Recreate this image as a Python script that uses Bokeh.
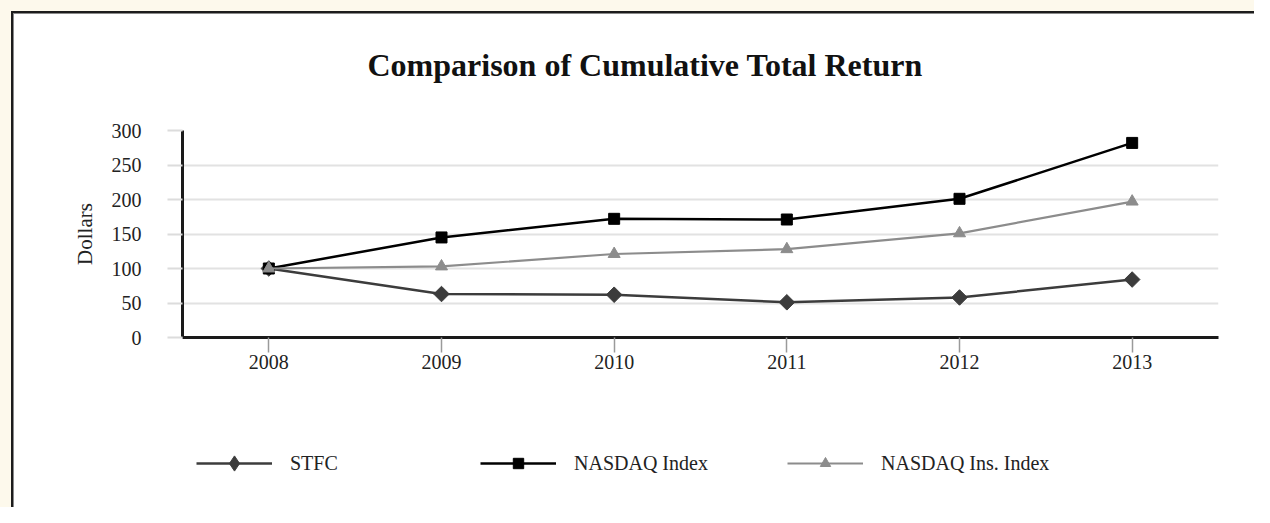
import numpy as np
from bokeh.plotting import figure
from bokeh.layouts import column
from bokeh.models import Range1d, FixedTicker, Legend, LegendItem, Title
from bokeh.embed import file_html
from bokeh.resources import INLINE

# ---- data ----
years = ["2008", "2009", "2010", "2011", "2012", "2013"]
stfc = [100, 63, 62, 51, 58, 84]
nasdaq = [100, 145, 172, 171, 201, 282]
nasdaq_ins = [100, 103, 121, 128, 151, 197]
y_ticks = [0, 50, 100, 150, 200, 250, 300]
series_names = ["STFC", "NASDAQ Index", "NASDAQ Ins. Index"]

FONT = "Liberation Serif"
TXT = "#222222"
STYLES = [
    dict(line_color="#3c3c3c", line_width=2.5, marker="square", angle=np.pi / 4,
         size=11, leg_marker="diamond", leg_h=38),
    dict(line_color="#000000", line_width=2.5, marker="square", angle=0.0,
         size=11, leg_marker="square", leg_h=26),
    dict(line_color="#8c8c8c", line_width=2.2, marker="triangle", angle=0.0,
         size=12, leg_marker="triangle", leg_h=26),
]

W = 1254
H_MAIN = 400
H_LEG = 107

p = figure(
    x_range=years, y_range=Range1d(0, 300),
    width=W, height=H_MAIN,
    output_backend="svg", toolbar_location=None,
    min_border_left=182, min_border_right=36,
    min_border_top=130, min_border_bottom=H_MAIN - 337,
    border_fill_color=None, background_fill_color=None,
    outline_line_color=None,
)

p.title = Title(text="Comparison of Cumulative Total Return", align="left",
                offset=185, vertical_align="top", standoff=91,
                text_font=FONT, text_font_size="32px",
                text_font_style="bold", text_color="#111111")

# ---- axes ----
p.xaxis.axis_line_width = 3
p.xaxis.axis_line_color = "#1a1a1a"
p.xaxis.major_tick_out = 15
p.xaxis.major_tick_in = 0
p.xaxis.major_tick_line_color = "#9a9a9a"
p.xaxis.major_tick_line_width = 1.5
p.xaxis.major_label_standoff = 2
p.xaxis.major_label_text_font = FONT
p.xaxis.major_label_text_font_size = "20px"
p.xaxis.major_label_text_color = TXT

p.yaxis.ticker = FixedTicker(ticks=y_ticks)
p.yaxis.axis_line_width = 3
p.yaxis.axis_line_color = "#1a1a1a"
p.yaxis.major_tick_out = 15
p.yaxis.major_tick_in = 0
p.yaxis.major_tick_line_color = "#dcdcdc"
p.yaxis.major_tick_line_width = 2
p.yaxis.minor_tick_line_color = None
p.yaxis.major_label_standoff = 26
p.yaxis.major_label_text_font = FONT
p.yaxis.major_label_text_font_size = "20px"
p.yaxis.major_label_text_color = TXT
p.yaxis.axis_label = "Dollars"
p.yaxis.axis_label_text_font = FONT
p.yaxis.axis_label_text_font_size = "21px"
p.yaxis.axis_label_text_font_style = "normal"
p.yaxis.axis_label_text_color = TXT
p.yaxis.axis_label_standoff = 12

p.xgrid.grid_line_color = None
p.ygrid.grid_line_color = "#e2e2e2"
p.ygrid.grid_line_width = 2

# ---- series ----
for vals, st in zip([stfc, nasdaq, nasdaq_ins], STYLES):
    p.line(years, vals, line_color=st["line_color"], line_width=st["line_width"])
    p.scatter(years, vals, marker=st["marker"], angle=st["angle"], size=st["size"],
              fill_color=st["line_color"], line_color=st["line_color"])

# ---- legend strip below the chart (frames of the column are aligned) ----
q = figure(
    x_range=Range1d(0, 1), y_range=Range1d(0, 1),
    width=W, height=H_LEG,
    output_backend="svg", toolbar_location=None,
    min_border=0, border_fill_color=None, background_fill_color=None,
    outline_line_color=None,
)
q.axis.visible = False
q.grid.visible = False

leg_x = [14, 298, 605]   # offsets from the aligned frame's left edge
for name, st, xpos in zip(series_names, STYLES, leg_x):
    lr = q.line([np.nan], [np.nan], line_color=st["line_color"],
                line_width=st["line_width"])
    sr = q.scatter([np.nan], [np.nan], marker=st["leg_marker"],
                   fill_color=st["line_color"], line_color=st["line_color"])
    gh = st["leg_h"]
    leg = Legend(items=[LegendItem(label=name, renderers=[lr, sr])],
                 location=(xpos, 44 - gh / 2), orientation="horizontal",
                 padding=0, margin=0, border_line_color=None,
                 background_fill_alpha=0, glyph_width=76, glyph_height=gh,
                 label_height=20, label_standoff=18,
                 label_text_font=FONT, label_text_font_size="20px",
                 label_text_color=TXT)
    q.add_layout(leg, "center")

layout = column(p, q, spacing=0)
layout.styles = {
    "background-color": "white",
    "box-shadow": "inset 11px 11px 0 0 #fdf9ec, "
                  "inset 13px 13px 0 0 #1c1c1c, inset 14px 14px 0 0 #8a8a8a",
}

html = file_html(layout, INLINE, title="Comparison of Cumulative Total Return")
open("out.html", "w").write(html)
